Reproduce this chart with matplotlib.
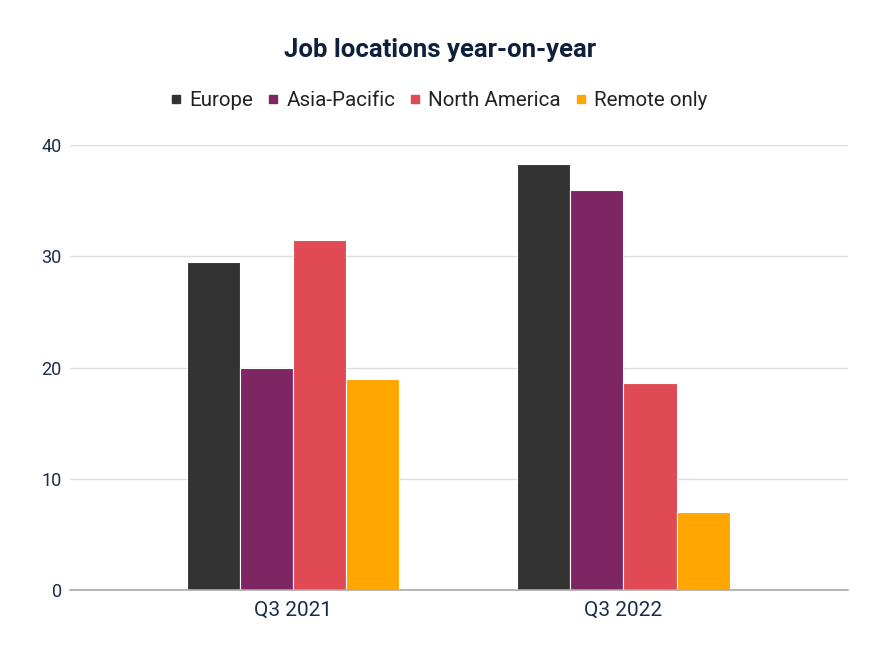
import numpy as np
import matplotlib
matplotlib.use('Agg')
from matplotlib import pyplot as plt
from matplotlib.lines import Line2D

plt.rcParams['font.family'] = ['Roboto', 'DejaVu Sans']

quarters = ['Q3 2021', 'Q3 2022']
series = ['Europe', 'Asia-Pacific', 'North America', 'Remote only']
europe = [29.5, 38.3]
asia_pacific = [20, 36]
north_america = [31.5, 18.6]
remote_only = [19, 7]
colores = ['#333333', '#7e2563', '#e04a53', '#ffa600']

valores = [europe, asia_pacific, north_america, remote_only]

fig = plt.figure(figsize=(8.8, 6.6), dpi=100)
ax = fig.add_axes([0.0795, 0.106, 0.884, 0.674])

x = np.arange(len(quarters))
ancho = 0.161
for i, (nombre, vals, c) in enumerate(zip(series, valores, colores)):
    ax.bar(x + (i - 1.5) * ancho, vals, ancho, color=c, edgecolor='white',
           linewidth=0.8, label=nombre, zorder=3)

ax.set_xlim(-0.676, 1.68)
ax.set_ylim(0, 40)
ax.set_yticks([0, 10, 20, 30, 40])
ax.set_xticks(x)
ax.set_xticklabels(quarters)
ax.grid(axis='y', color='#dddddd', linewidth=1, zorder=0)
for s in ['top', 'right', 'left']:
    ax.spines[s].set_visible(False)
ax.spines['bottom'].set_color('#aaaaaa')
ax.spines['bottom'].set_linewidth(1.2)
ax.spines['bottom'].set_zorder(4)
ax.tick_params(axis='both', length=0, labelcolor='#1b2c48')
ax.tick_params(axis='x', pad=8, labelsize=15)
ax.tick_params(axis='y', pad=6, labelsize=13)

fig.text(0.5, 0.925, 'Job locations year-on-year', ha='center', va='center',
         fontsize=18.5, fontweight='bold', color='#0f1f3d')

handles = [Line2D([], [], marker='s', linestyle='', color=c, markersize=6)
           for c in colores]
fig.legend(handles, series, loc='center', bbox_to_anchor=(0.498, 0.847),
           ncol=4, frameon=False, fontsize=14.8, handlelength=0.7,
           handletextpad=0.3, columnspacing=0.6, labelcolor='#222222')

fig.savefig('out.png', dpi=100)
